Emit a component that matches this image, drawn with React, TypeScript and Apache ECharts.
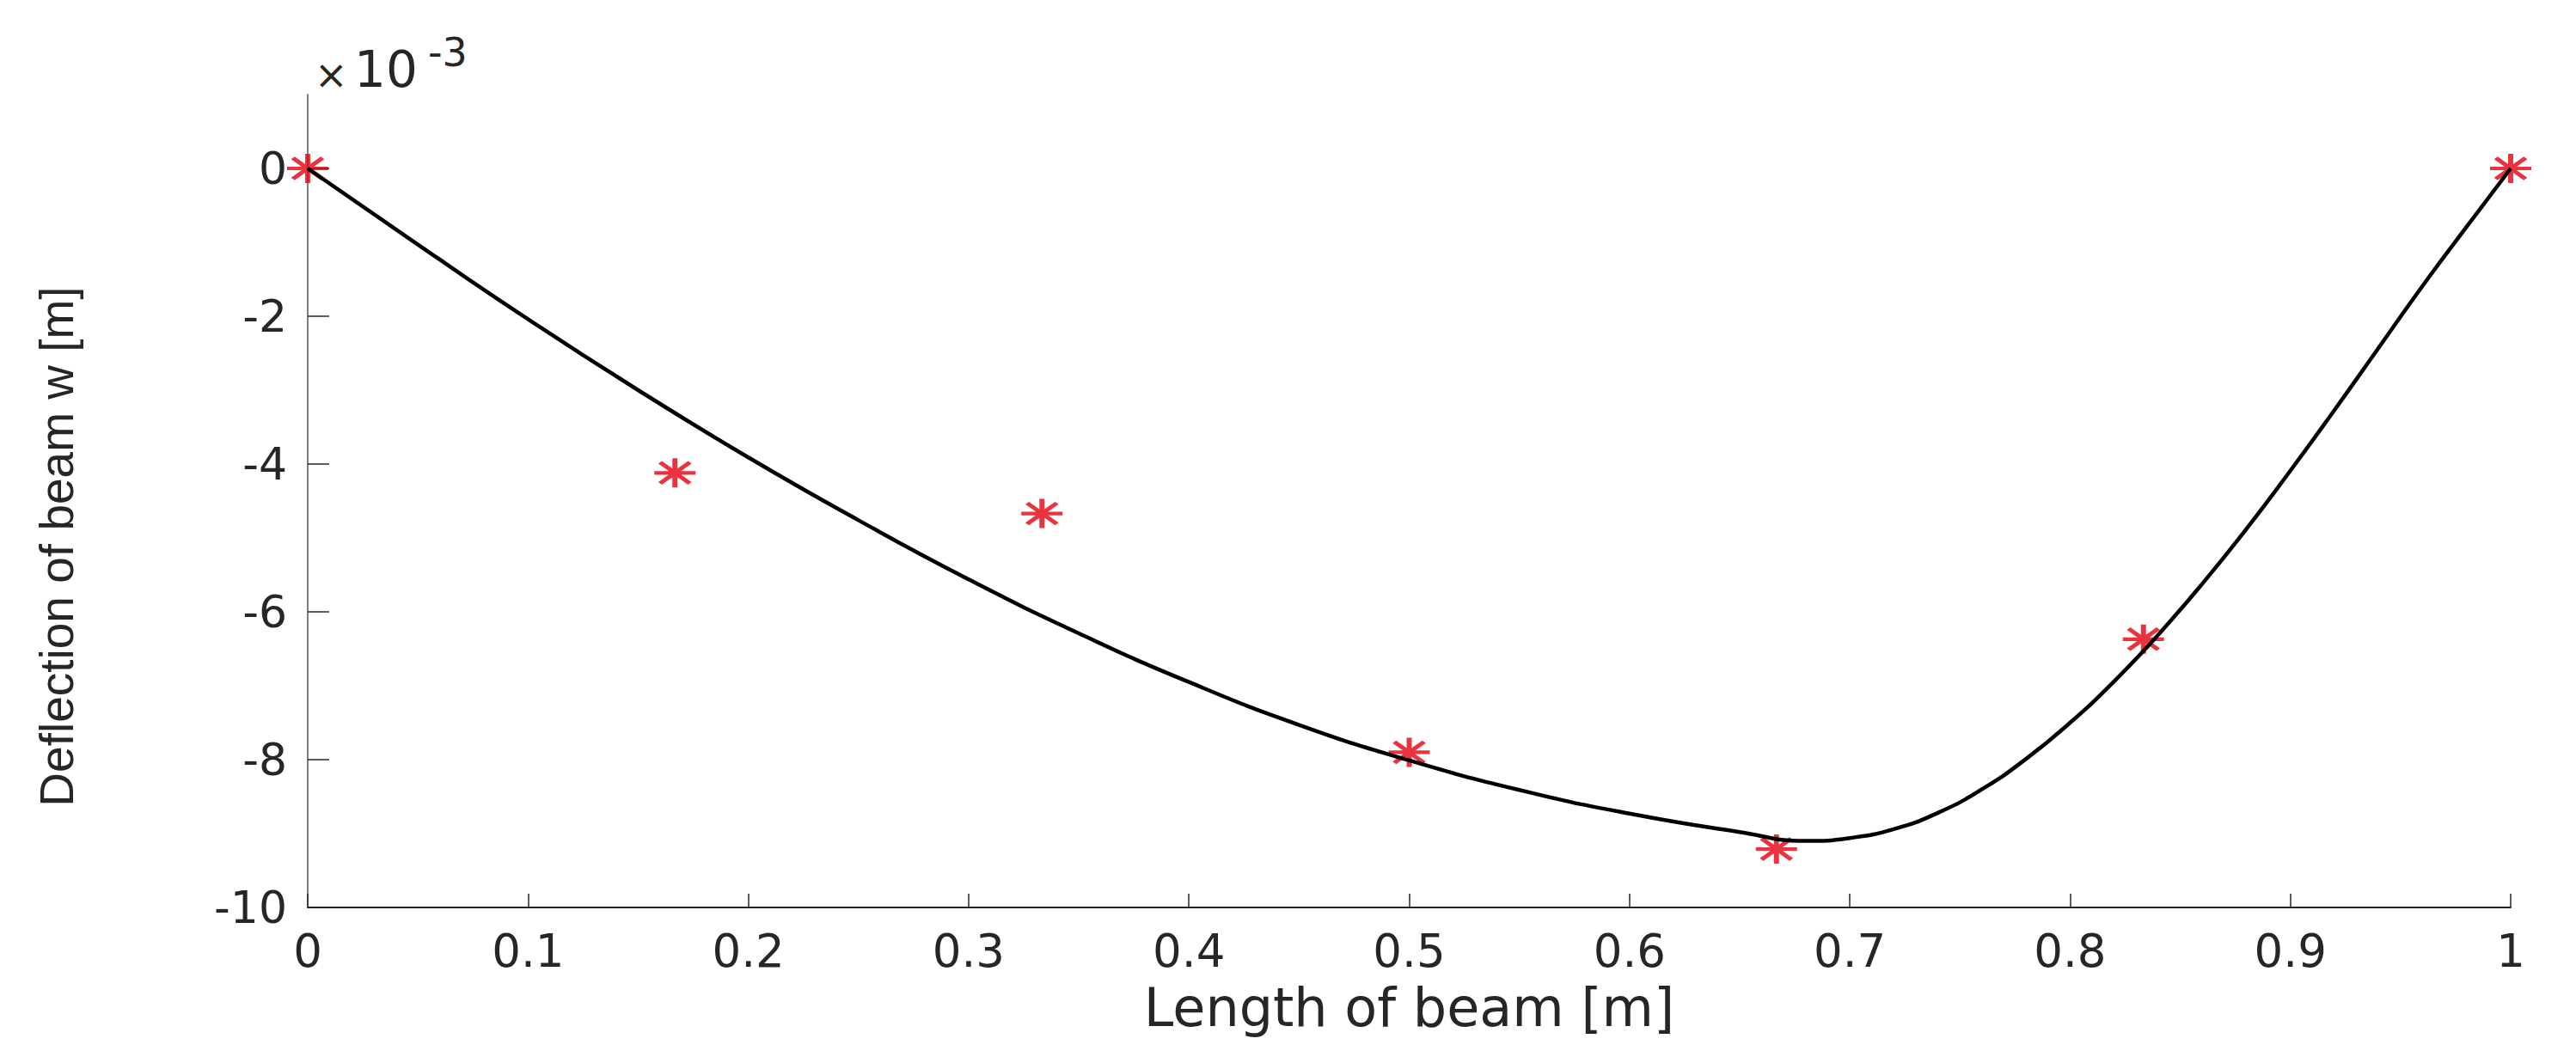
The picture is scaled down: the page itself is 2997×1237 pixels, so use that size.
import React, { useEffect, useRef } from "react";
import * as echarts from "echarts";

// Node values (red asterisks)
const nodeX = [0, 0.1667, 0.3333, 0.5, 0.6667, 0.8333, 1.0];
const nodeW = [0, -4.12, -4.67, -7.9, -9.21, -6.37, 0];

// Continuous deflection curve (black line)
const curveX = [0, 0.05, 0.1, 0.15, 0.2, 0.25, 0.3, 0.35, 0.4, 0.45, 0.5, 0.55, 0.6, 0.65, 0.68, 0.7, 0.72, 0.74, 0.76, 0.78, 0.8, 0.82, 0.84, 0.86, 0.88, 0.9, 0.92, 0.94, 0.96, 0.98, 1.0];
const curveW = [0, -1.03, -2.04, -3.0, -3.91, -4.76, -5.56, -6.29, -6.95, -7.53, -8.01, -8.41, -8.73, -8.98, -9.1, -9.06, -8.94, -8.72, -8.4, -7.99, -7.5, -6.94, -6.31, -5.62, -4.88, -4.09, -3.27, -2.43, -1.59, -0.79, 0];

// Axis ticks
const xTicks = [0, 0.1, 0.2, 0.3, 0.4, 0.5, 0.6, 0.7, 0.8, 0.9, 1];
const yTicks = [-10, -8, -6, -4, -2, 0];

const xTitle = "Length of beam [m]";
const yTitle = "Deflection of beam w [m]";

const TXT = "#262626";
const RED = "#e4000f";
const STAR = "path://M0,-1L0,1M-1,0L1,0M-0.72,-0.72L0.72,0.72M-0.72,0.72L0.72,-0.72";

export default function App() {
  const ref = useRef<HTMLDivElement>(null);
  useEffect(() => {
    if (!ref.current) return;
    const chart = echarts.init(ref.current, null, { renderer: "svg" });
    chart.setOption({
      animation: false,
      backgroundColor: "#ffffff",
      grid: { left: 358, right: 76, top: 110, bottom: 181, containLabel: false, outerBoundsMode: "none" },
      xAxis: {
        type: "value",
        min: 0,
        max: 1,
        interval: 0.1,
        name: xTitle,
        nameLocation: "middle",
        nameGap: 85,
        nameTextStyle: { fontFamily: "DejaVu Sans", fontSize: 62, color: TXT },
        axisLine: { show: true, onZero: false, lineStyle: { color: TXT, width: 2 } },
        axisTick: { show: true, inside: true, length: 16, customValues: xTicks, lineStyle: { color: TXT, width: 1.5 } },
        axisLabel: {
          margin: 24,
          fontFamily: "DejaVu Sans",
          fontSize: 53,
          color: TXT,
          customValues: xTicks,
          formatter: (v: number) => String(Math.round(v * 10) / 10),
        },
        splitLine: { show: false },
      },
      yAxis: {
        type: "value",
        min: -10,
        max: 1,
        interval: 2,
        axisLine: { show: true, onZero: false, lineStyle: { color: "#555555", width: 1.5 } },
        axisTick: { show: true, inside: true, length: 25, customValues: yTicks, lineStyle: { color: TXT, width: 1.5 } },
        axisLabel: {
          margin: 24,
          fontFamily: "DejaVu Sans",
          fontSize: 52,
          color: TXT,
          customValues: yTicks,
        },
        splitLine: { show: false },
      },
      graphic: [
        {
          type: "text",
          x: 66,
          y: 636,
          rotation: Math.PI / 2,
          style: {
            text: yTitle,
            fontFamily: "Liberation Sans",
            fontSize: 55,
            fill: TXT,
            textAlign: "center",
            textVerticalAlign: "middle",
          },
        },
        { type: "text", left: 366, top: 64, style: { text: "×", fontFamily: "DejaVu Sans", fontSize: 46, fill: TXT } },
        { type: "text", left: 412, top: 52, style: { text: "10", fontFamily: "DejaVu Sans", fontSize: 58, fill: TXT } },
        { type: "text", left: 498, top: 38, style: { text: "-3", fontFamily: "DejaVu Sans", fontSize: 46, fill: TXT } },
      ],
      series: [
        {
          type: "scatter",
          data: nodeX.map((x, i) => [x, nodeW[i]]),
          symbol: STAR,
          symbolSize: [48, 34],
          itemStyle: { color: "rgba(0,0,0,0)", borderColor: RED, borderWidth: 5 },
          z: 2,
        },
        {
          type: "line",
          data: curveX.map((x, i) => [x, curveW[i]]),
          showSymbol: false,
          symbol: "none",
          smooth: 0.5,
          lineStyle: { color: "#000000", width: 4.5 },
          z: 3,
        },
      ],
    });
    return () => chart.dispose();
  }, []);
  return <div ref={ref} style={{ position: "fixed", left: 0, top: 0, width: 2997, height: 1237 }} />;
}
